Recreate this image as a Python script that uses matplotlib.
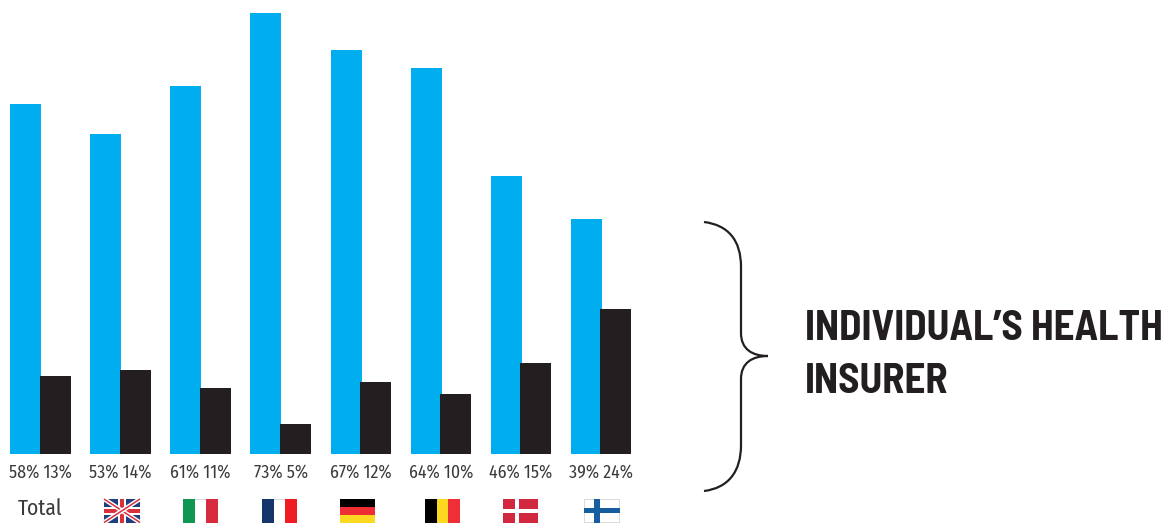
import matplotlib
matplotlib.use("Agg")
import numpy as np
from matplotlib import pyplot as plt
from matplotlib.patches import PathPatch, Rectangle
from matplotlib.path import Path

LABEL_FONT = ['Fira Sans Condensed', 'Roboto', 'DejaVu Sans']
HEAD_FONT = ['Barlow Semi Condensed', 'Roboto', 'DejaVu Sans']

first_label = 'Total'
blue_vals = [58, 53, 61, 73, 67, 64, 46, 39]
black_vals = [13, 14, 11, 5, 12, 10, 15, 24]
heading = ["INDIVIDUAL\u2019S HEALTH", "INSURER"]

BLUE = '#00aeef'
BLACK = '#231f20'
TEXT = '#3a3a3c'
W, H = 1172, 526
FLAG_Y, FLAG_H = 499, 23.5

fig = plt.figure(figsize=(W / 100, H / 100), dpi=100)

# bars: x axis in pixels, y axis in percent with the baseline at 454 px
ax = fig.add_axes([0, (H - 454) / H, 1, 440.6 / H])
ax.set_xlim(0, W)
ax.set_ylim(0, 73)
ax.axis('off')
n = np.arange(len(blue_vals))
blue_x = 25.5 + 80.15 * n
black_x = 55.5 + 80 * n
ax.bar(blue_x, blue_vals, 31, color=BLUE, lw=0)
ax.bar(black_x, black_vals, 31, color=BLACK, lw=0)

# overlay in pixel coordinates for labels, flags and the brace
ov = fig.add_axes([0, 0, 1, 1])
ov.set_xlim(0, W)
ov.set_ylim(H, 0)
ov.axis('off')
ov.patch.set_alpha(0)

for i in n:
    ov.text((blue_x[i] + black_x[i]) / 2, 473, f"{blue_vals[i]}% {black_vals[i]}%", ha='center', va='center',
            fontsize=12.8, fontweight='normal', family=LABEL_FONT, color=TEXT)
ov.text(40.5, 509, first_label, ha='center', va='center', fontsize=15.5, fontweight='normal',
        family=LABEL_FONT, color=TEXT)


def rect(x0, y0, w, h, c):
    ov.add_patch(Rectangle((x0, y0), w, h, fc=c, lw=0))


def vstripes(x0, cols):
    w = 35 / len(cols)
    rect(x0, FLAG_Y, 35, FLAG_H + 0.8, '#dcdcdc')
    for k, c in enumerate(cols):
        rect(x0 + k * w, FLAG_Y + 0.6 * (c == '#ffffff'), w, FLAG_H - 0.6 * (c == '#ffffff'), c)


def hstripes(x0, cols):
    h = FLAG_H / len(cols)
    for k, c in enumerate(cols):
        rect(x0, FLAG_Y + k * h, 35, h, c)


# uk
ux, uy, uw, uh = 104, FLAG_Y, 36, FLAG_H
rect(ux, uy, uw, uh, '#1f3f7f')
for xs, ys in (((ux, ux + uw), (uy, uy + uh)), ((ux, ux + uw), (uy + uh, uy))):
    ov.plot(xs, ys, color='white', lw=3.2, solid_capstyle='butt')
    ov.plot(xs, ys, color='#d9303e', lw=1.1, solid_capstyle='butt')
ov.set_xlim(0, W)
ov.set_ylim(H, 0)
rect(ux + uw / 2 - 4, uy, 8, uh, 'white')
rect(ux, uy + uh / 2 - 4, uw, 8, 'white')
rect(ux + uw / 2 - 2.2, uy, 4.4, uh, '#d9303e')
rect(ux, uy + uh / 2 - 2.2, uw, 4.4, '#d9303e')

vstripes(183, ['#0f9650', '#ffffff', '#d62b3c'])
vstripes(262, ['#15366b', '#ffffff', '#ee1c25'])
hstripes(340, ['#000000', '#ed2e34', '#fcd920'])
vstripes(425, ['#000000', '#fcd920', '#ef2f36'])

# denmark
rect(503, FLAG_Y, 35, FLAG_H, '#d12840')
rect(515, FLAG_Y, 4, FLAG_H, 'white')
rect(503, 509, 35, 3.6, 'white')

# finland
rect(584, FLAG_Y, 35.5, FLAG_H, '#dcdcdc')
rect(585, FLAG_Y + 0.8, 33.5, FLAG_H - 1.6, 'white')
rect(594.3, FLAG_Y, 5.6, FLAG_H, '#155fa0')
rect(584, 507.7, 35.5, 5.6, '#155fa0')

# brace
C3 = Path.CURVE4
verts = [(704, 222), (728, 225), (741, 240), (741, 267), (741, 333),
         (741, 349), (752, 356), (768, 356),
         (752, 356), (741, 363), (741, 379), (741, 445),
         (741, 472), (728, 488), (704, 491)]
codes = [Path.MOVETO, C3, C3, C3, Path.LINETO, C3, C3, C3, C3, C3, C3, Path.LINETO, C3, C3, C3]
ov.add_patch(PathPatch(Path(verts, codes), fc='none', ec=BLACK, lw=1.6))

ov.text(805, 340, heading[0], ha='left', va='baseline', fontsize=29.5, fontweight='bold',
        family=HEAD_FONT, color=BLACK)
ov.text(805, 393, heading[1], ha='left', va='baseline', fontsize=29.5, fontweight='bold',
        family=HEAD_FONT, color=BLACK)

fig.savefig('out.png', dpi=100)
